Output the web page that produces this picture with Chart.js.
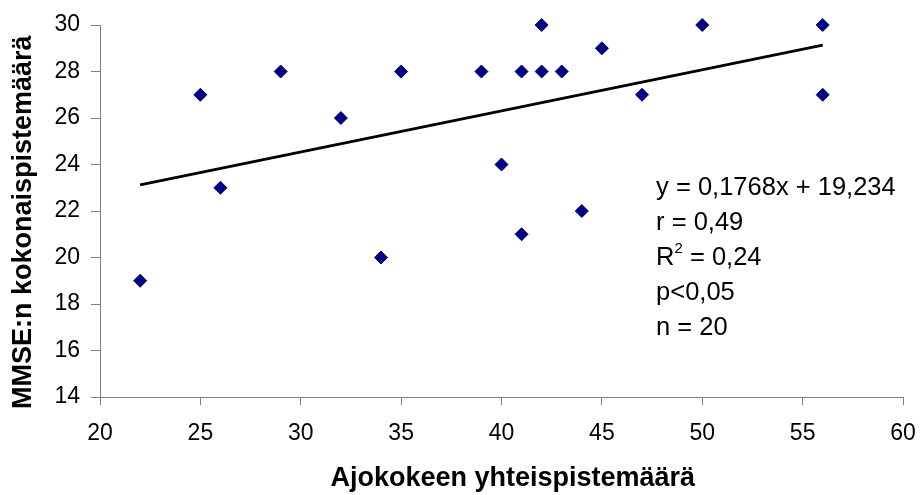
<!DOCTYPE html>
<html><head><meta charset="utf-8">
<script src="https://cdn.jsdelivr.net/npm/chart.js@4/dist/chart.umd.min.js"></script>
<style>html,body{margin:0;padding:0;background:#fff}#wrap{width:920px;height:495px}</style>
</head><body><div id="wrap"><canvas id="c" width="920" height="495"></canvas></div>
<script>
// ---- data ----
const drivingScores = [22,25,26,29,32,34,35,39,40,41,41,42,42,43,44,45,47,50,56,56];
const mmseScores    = [19,27,23,28,26,20,28,28,24,21,28,30,28,28,22,29,27,30,30,27];
const trendRange = [22, 56];
const trendSlope = 0.1768;
const trendIntercept = 19.234;
const xTickValues = [20,25,30,35,40,45,50,55,60];
const yTickValues = [14,16,18,20,22,24,26,28,30];
const xTitle = 'Ajokokeen yhteispistemäärä';
const yTitle = 'MMSE:n kokonaispistemäärä';
const statLines = ['y = 0,1768x + 19,234', 'r = 0,49', 'R2 = 0,24', 'p<0,05', 'n = 20'];

const FONT = "'Liberation Sans', Arial, sans-serif";
const points = drivingScores.map((x, i) => ({x, y: mmseScores[i]}));
const trend = trendRange.map(x => ({x, y: trendSlope * x + trendIntercept}));

const statsPlugin = {
  id: 'stats',
  afterDraw(chart) {
    const ctx = chart.ctx;
    const xs = chart.scales.x;
    const ys = chart.scales.y;
    const left = xs.getPixelForValue(47.7);
    const top = ys.getPixelForValue(22.97);
    const gap = 35;
    ctx.save();
    ctx.fillStyle = '#000';
    ctx.font = '25.5px ' + FONT;
    ctx.textBaseline = 'middle';
    ctx.textAlign = 'left';
    statLines.forEach((t, i) => {
      const y = top + i * gap;
      if (t.startsWith('R2')) {
        ctx.fillText('R', left, y);
        const w = ctx.measureText('R').width;
        ctx.font = '15px ' + FONT;
        ctx.fillText('2', left + w, y - 10);
        const w2 = ctx.measureText('2').width;
        ctx.font = '25.5px ' + FONT;
        ctx.fillText(t.slice(2), left + w + w2, y);
      } else {
        ctx.fillText(t, left, y);
      }
    });
    ctx.restore();
  }
};

new Chart(document.getElementById('c'), {
  type: 'scatter',
  data: {
    datasets: [
      {
        data: points,
        pointStyle: 'rectRot',
        pointRadius: 6.5,
        pointBackgroundColor: '#000080',
        pointBorderColor: '#000080',
        pointBorderWidth: 1,
        showLine: false,
        clip: false
      },
      {
        data: trend,
        showLine: true,
        borderColor: '#000',
        borderWidth: 3,
        pointRadius: 0,
        clip: false
      }
    ]
  },
  options: {
    responsive: false,
    animation: false,
    devicePixelRatio: 1,
    layout: { padding: { top: 25, right: 17, left: 0, bottom: 0 } },
    plugins: { legend: { display: false }, tooltip: { enabled: false } },
    scales: {
      x: {
        type: 'linear',
        min: 20, max: 60,
        afterBuildTicks: s => { s.ticks = xTickValues.map(v => ({value: v})); },
        afterFit: s => { s.height = 98; s.paddingLeft = 0; s.paddingRight = 0; },
        ticks: { color: '#000', font: { family: FONT, size: 23 }, padding: 15, maxRotation: 0 },
        grid: { display: true, drawOnChartArea: false, tickLength: 8, color: '#808080', lineWidth: 1 },
        border: { display: true, color: '#808080', width: 1 },
        title: { display: true, text: '   ' + xTitle, color: '#000', font: { family: FONT, size: 27, weight: 'bold' }, padding: { top: 0, bottom: 0 } }
      },
      y: {
        type: 'linear',
        min: 14, max: 30,
        afterBuildTicks: s => { s.ticks = yTickValues.map(v => ({value: v})); },
        afterFit: s => { s.width = 100; s.paddingTop = 0; s.paddingBottom = 0; },
        ticks: { color: '#000', font: { family: FONT, size: 23 }, padding: 11 },
        grid: { display: true, drawOnChartArea: false, tickLength: 9, color: '#808080', lineWidth: 1 },
        border: { display: true, color: '#808080', width: 1 },
        title: { display: true, text: yTitle + '   ', color: '#000', font: { family: FONT, size: 27, weight: 'bold' }, padding: { top: 7, bottom: 0 } }
      }
    }
  },
  plugins: [statsPlugin]
});
</script>
</body></html>
